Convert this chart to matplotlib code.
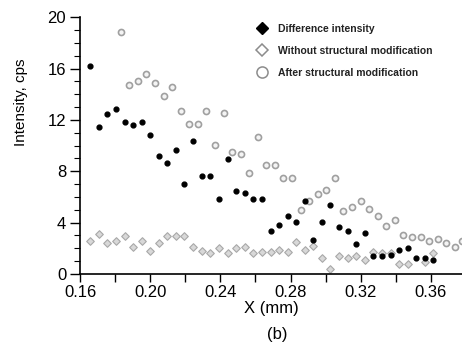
import matplotlib
matplotlib.use('Agg')
import matplotlib.pyplot as plt
from matplotlib.lines import Line2D
from matplotlib.ticker import MultipleLocator

plt.rcParams['font.family'] = ['Liberation Sans', 'DejaVu Sans']

# x positions (mm) shared by the difference and "without" series
x_diff = [0.1657, 0.1707, 0.1756, 0.1805, 0.1855, 0.1904, 0.1952, 0.2001, 0.2050, 0.2097,
          0.2147, 0.2194, 0.2246, 0.2293, 0.2342, 0.2392, 0.2442, 0.2489, 0.2538, 0.2587,
          0.2637, 0.2687, 0.2734, 0.2783, 0.2832, 0.2882, 0.2929, 0.2979, 0.3026, 0.3076,
          0.3125, 0.3174, 0.3222, 0.3271, 0.3321, 0.3370, 0.3418, 0.3467, 0.3516, 0.3566,
          0.3613]
diff = [16.19, 11.48, 12.49, 12.84, 11.82, 11.64, 11.82, 10.83, 9.17, 8.65,
        9.69, 6.99, 10.37, 7.64, 7.64, 5.82, 8.99, 6.49, 6.34, 5.85,
        5.85, 3.35, 3.84, 4.52, 4.03, 5.69, 2.67, 4.03, 5.38, 3.69,
        3.35, 2.34, 3.20, 1.40, 1.40, 1.50, 1.89, 2.05, 1.25, 1.25,
        1.09]

x_without = [0.1657, 0.1707, 0.1756, 0.1805, 0.1855, 0.1904, 0.1952, 0.2001, 0.2050, 0.2097,
             0.2147, 0.2194, 0.2246, 0.2293, 0.2342, 0.2392, 0.2442, 0.2489, 0.2538, 0.2587,
             0.2637, 0.2687, 0.2734, 0.2783, 0.2832, 0.2882, 0.2929, 0.2979, 0.3026, 0.3076,
             0.3125, 0.3174, 0.3222, 0.3271, 0.3321, 0.3370, 0.3418, 0.3467, 0.3566, 0.3613]
without = [2.60, 3.09, 2.44, 2.60, 2.94, 2.10, 2.60, 1.82, 2.44, 2.94,
           2.94, 2.94, 2.10, 1.82, 1.66, 2.00, 1.66, 2.00, 2.10, 1.66,
           1.68, 1.68, 1.87, 1.68, 2.49, 1.87, 2.18, 1.22, 0.39, 1.38,
           1.25, 1.38, 1.09, 1.71, 1.61, 1.60, 0.78, 0.78, 0.91, 1.61]

x_after = [0.1832, 0.1881, 0.1930, 0.1978, 0.2027, 0.2077, 0.2124, 0.2174, 0.2223, 0.2271,
           0.2320, 0.2369, 0.2419, 0.2466, 0.2516, 0.2565, 0.2614, 0.2662, 0.2711, 0.2758,
           0.2808, 0.2858, 0.2907, 0.2954, 0.3003, 0.3053, 0.3100, 0.3150, 0.3199, 0.3247,
           0.3296, 0.3345, 0.3395, 0.3442, 0.3492, 0.3541, 0.3589, 0.3638, 0.3687, 0.3737,
           0.3777]
after = [18.84, 14.73, 15.07, 15.57, 14.89, 13.87, 14.55, 12.70, 11.69, 11.69,
         12.70, 10.02, 12.53, 9.51, 9.35, 7.85, 10.70, 8.52, 8.52, 7.51,
         7.51, 4.99, 5.69, 6.21, 6.52, 7.51, 4.89, 5.22, 5.71, 5.07,
         4.54, 3.72, 4.21, 3.04, 2.86, 2.86, 2.60, 2.73, 2.39, 2.08,
         2.60]

labels = ['Difference intensity', 'Without structural modification',
          'After structural modification']

fig = plt.figure(figsize=(4.62, 3.43), dpi=100)
ax = fig.add_axes([0.1732, 0.2012, 0.8268, 0.7484])

ax.scatter(x_without, without, s=15, marker='D', facecolor='#d8d8d8',
           edgecolor='#a8a8a8', linewidth=0.8, zorder=2)
ax.scatter(x_after, after, s=19, marker='o', facecolor='#f4f4f4',
           edgecolor='#a0a0a0', linewidth=1.2, zorder=2)
ax.scatter(x_diff, diff, s=12, marker='o', color='black', zorder=3)

ax.set_xlim(0.16, 0.3777)
ax.set_ylim(0, 20)
ax.spines['top'].set_visible(False)
ax.spines['right'].set_visible(False)
ax.spines['left'].set_linewidth(1.2)
ax.spines['bottom'].set_linewidth(1.2)

ax.xaxis.set_major_locator(MultipleLocator(0.04))
ax.xaxis.set_minor_locator(MultipleLocator(0.02))
ax.xaxis.set_major_formatter(plt.FormatStrFormatter('%.2f'))
ax.yaxis.set_major_locator(MultipleLocator(4))
ax.yaxis.set_minor_locator(MultipleLocator(1))
ax.tick_params(axis='x', which='both', direction='out', length=6, width=1, labelsize=12, pad=2)
ax.tick_params(axis='y', which='major', direction='out', length=7, width=1, labelsize=12, pad=3)
ax.tick_params(axis='y', which='minor', direction='out', length=4, width=0.8)

ax.set_xlabel('X (mm)', fontsize=12, labelpad=1)
ax.set_ylabel('Intensity, cps', fontsize=11)
ax.yaxis.set_label_coords(-0.137, 0.669)
fig.text(277 / 462, 1 - 335 / 343, '(b)', fontsize=12, ha='center', va='center')

handles = [
    Line2D([], [], linestyle='none', marker='D', markersize=6.5,
           markerfacecolor='black', markeredgecolor='black'),
    Line2D([], [], linestyle='none', marker='D', markersize=6.5,
           markerfacecolor='white', markeredgecolor='#8c8c8c', markeredgewidth=1.1),
    Line2D([], [], linestyle='none', marker='o', markersize=8,
           markerfacecolor='white', markeredgecolor='#8c8c8c', markeredgewidth=1.1),
]
leg = ax.legend(handles, labels, loc='upper left', bbox_to_anchor=(257 / 462, 1 - 24 / 343),
                bbox_transform=fig.transFigure, frameon=False,
                prop={'size': 7.5, 'weight': 'bold'},
                handlelength=1.0, handletextpad=1.0, labelspacing=1.15, borderpad=0,
                borderaxespad=0)
for t in leg.get_texts():
    t.set_color('#222222')

plt.savefig('out.png', dpi=100)
plt.close()
